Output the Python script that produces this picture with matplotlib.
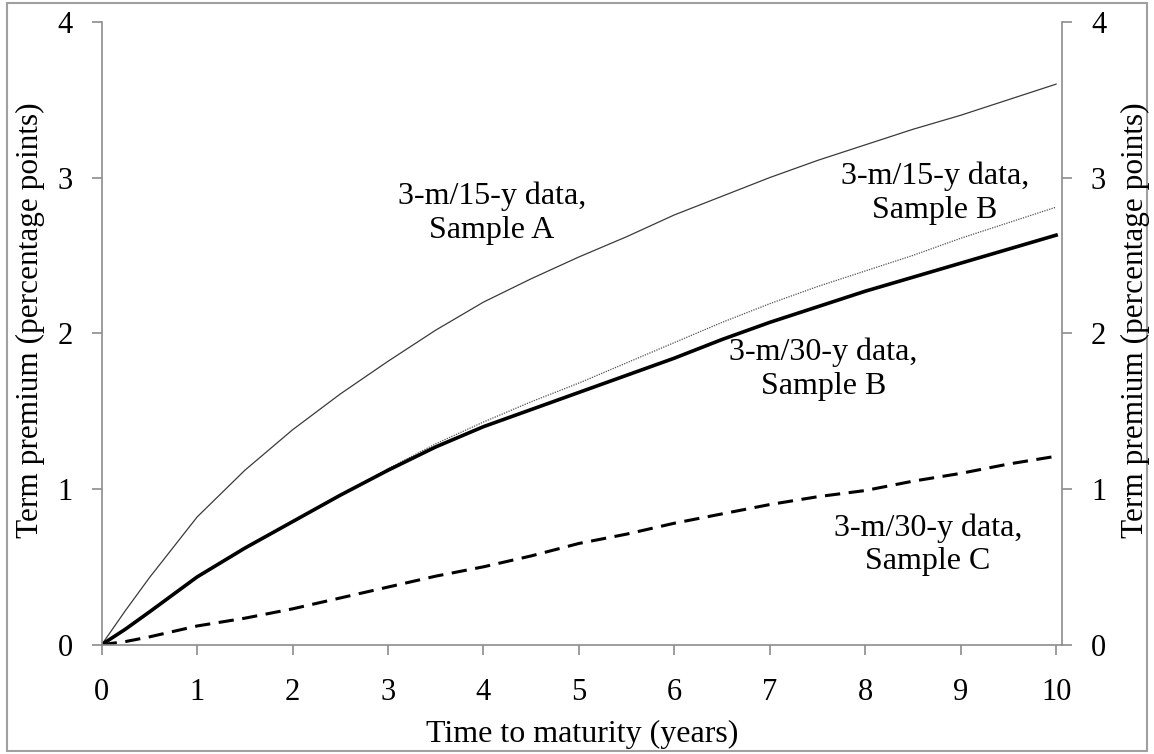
import numpy as np
import matplotlib
matplotlib.use("Agg")
import matplotlib.pyplot as plt
from matplotlib.patches import Rectangle

plt.rcParams['font.family'] = ['Liberation Serif', 'DejaVu Serif']

# Time to maturity (years)
maturity = [0, 0.25, 0.5, 1, 1.5, 2, 2.5, 3, 3.5, 4, 4.5, 5, 5.5, 6, 6.5, 7, 7.5, 8, 8.5, 9, 9.5, 10]

# Term premium (percentage points)
tp_15y_A = [0, 0.22, 0.43, 0.82, 1.12, 1.38, 1.61, 1.82, 2.02, 2.20, 2.35, 2.49, 2.62, 2.76, 2.88, 3.00, 3.11, 3.21, 3.31, 3.40, 3.50, 3.60]
tp_15y_B = [0, 0.10, 0.21, 0.435, 0.62, 0.79, 0.96, 1.13, 1.29, 1.43, 1.56, 1.68, 1.81, 1.94, 2.07, 2.19, 2.30, 2.40, 2.50, 2.61, 2.71, 2.81]
tp_30y_B = [0, 0.10, 0.21, 0.435, 0.62, 0.79, 0.96, 1.12, 1.27, 1.40, 1.51, 1.62, 1.73, 1.84, 1.96, 2.07, 2.17, 2.27, 2.36, 2.45, 2.54, 2.63]
tp_30y_C = [0, 0.02, 0.05, 0.12, 0.17, 0.23, 0.30, 0.37, 0.44, 0.50, 0.57, 0.65, 0.71, 0.78, 0.84, 0.90, 0.95, 0.99, 1.05, 1.10, 1.16, 1.21]

x_ticks = list(range(0, 11))
y_ticks = [0, 1, 2, 3, 4]
ylabel = 'Term premium (percentage points)'

fig = plt.figure(figsize=(11.54, 7.54), dpi=100)
ax = fig.add_axes([0.0881, 0.145, 0.832, 0.826])

# outer frame around the whole chart
fig.patches.append(Rectangle((0.006, 0.004), 0.988, 0.992, transform=fig.transFigure,
                             fill=False, edgecolor='#a0a0a0', linewidth=1.5))

ax.plot(maturity, tp_15y_A, color='#3a3a3a', linewidth=0.9)
ax.plot(maturity, tp_15y_B, color='#505050', linewidth=0.9, linestyle=(0, (1, 1)))
ax.plot(maturity, tp_30y_B, color='black', linewidth=2.6)
ax.plot(maturity, tp_30y_C, color='black', linewidth=2.2, dashes=(5, 2.8))

ax.set_xlim(0, 10.06)
ax.set_ylim(0, 4)
ax.set_xticks(x_ticks)
ax.set_yticks(y_ticks)

spine_col = '#8c8c8c'
for side in ['left', 'right', 'bottom']:
    ax.spines[side].set_color(spine_col)
    ax.spines[side].set_linewidth(1.2)
ax.spines['top'].set_visible(False)

ax.tick_params(axis='both', colors=spine_col, labelcolor='black', labelsize=22,
               length=7, width=1.2, direction='out')
ax.tick_params(axis='x', pad=17)
ax.tick_params(axis='y', pad=14, left=True, right=True, labelleft=True, labelright=True)

ax.set_xlabel('Time to maturity (years)', fontsize=23, labelpad=9)

# y axis titles on both sides
fig.text(30 / 1154, 1 - 320 / 754, ylabel, fontsize=22.5, rotation=90, ha='center', va='center')
fig.text(1135 / 1154, 1 - 320 / 754, ylabel, fontsize=22.5, rotation=90, ha='center', va='center')

label_kw = dict(fontsize=23, ha='center', va='center', linespacing=1.2)
ax.text(4.09, 2.77, '3-m/15-y data,\nSample A', **label_kw)
ax.text(8.73, 2.90, '3-m/15-y data,\nSample B', **label_kw)
ax.text(7.56, 1.77, '3-m/30-y data,\nSample B', **label_kw)
ax.text(8.66, 0.64, '3-m/30-y data,\nSample C', **label_kw)

fig.savefig('out.png', dpi=100)
